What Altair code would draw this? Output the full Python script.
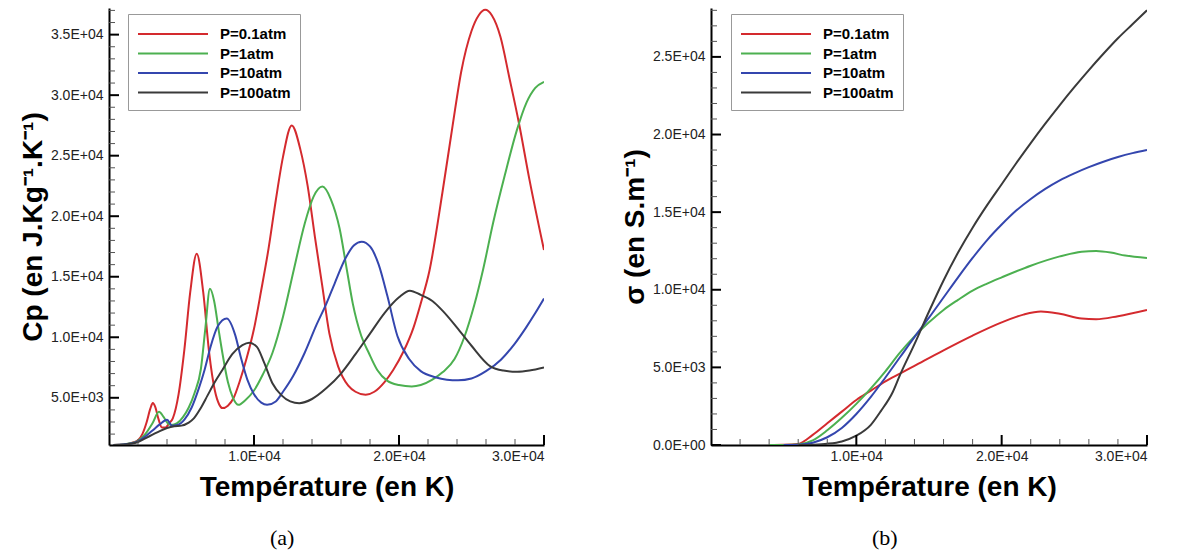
import altair as alt
import pandas as pd

# ---------------- data: Cp (left panel) ----------------
cp_T_01 = [300, 1000, 1500, 2000, 2300, 2600, 2850, 3020, 3200, 3400, 3650, 3900, 4150, 4400, 4800, 5200, 5600, 6050,
           6500, 6900, 7300, 7600, 7820, 8200, 8600, 9000, 9500, 10000, 10500, 11000, 11500, 12000, 12600, 13200,
           13700, 14200, 14700, 15200, 15800, 16500, 17000, 17700, 18300, 19000, 19600, 20300, 21000, 21500, 22100,
           23000, 23700, 24300, 25000, 25500, 25950, 26400, 27000, 27600, 28270, 29000, 30000]
cp_V_01 = [1110, 1150, 1250, 1500, 2000, 3000, 4100, 4560, 4200, 3300, 2550, 2550, 2900, 3300, 5300, 9000, 13700, 16900,
           13700, 8800, 5600, 4450, 4150, 4350, 5000, 6300, 8300, 10700, 13900, 17300, 21300, 24900, 27500, 25500,
           22500, 18300, 14300, 10300, 7600, 6000, 5500, 5250, 5500, 6300, 7300, 8800, 10800, 12800, 15500,
           22000, 27500, 32000, 35300, 36600, 37050, 36600, 34800, 31500, 27700, 23000, 17200]

cp_T_1 = [300, 1000, 1500, 2000, 2500, 3000, 3450, 3750, 4050, 4300, 4700, 5100, 5500, 5900, 6340, 6650, 6960, 7250,
          7550, 7820, 8200, 8550, 8930, 9400, 10000, 10600, 11270, 12000, 12750, 13500, 14100, 14720, 15300, 15900,
          16400, 16810, 17400, 17920, 18500, 19200, 20000, 20880, 21500, 22300, 23000, 23830, 24500, 25200, 25800,
          26500, 27300, 28140, 28800, 29400, 30000]
cp_V_1 = [1110, 1150, 1240, 1450, 2000, 2900, 3850, 3450, 2900, 2750, 2900, 3400, 4200, 5400, 7400, 10800, 14000, 13000,
          10700, 8700, 6300, 5000, 4420, 4800, 5600, 6900, 8700, 11700, 15600, 19400, 21600, 22450, 21400, 19000,
          15600, 12800, 10100, 8700, 7300, 6400, 6050, 5930, 6050, 6500, 7100, 8200, 10000, 12700, 15600,
          19500, 23400, 27150, 29400, 30600, 31100]

cp_T_10 = [300, 1000, 1500, 2000, 2500, 3000, 3500, 4000, 4350, 4700, 5200, 5700, 6200, 6590, 7000, 7500, 8120, 8700,
           9100, 9540, 10000, 10500, 10900, 11500, 12000, 12700, 13490, 14300, 15000, 15580, 16300, 16900, 17430,
           18000, 18600, 19200, 19890, 20700, 21500, 22500, 23300, 24070, 25000, 26000, 27030, 28000, 28760, 29400,
           30000]
cp_V_10 = [1110, 1140, 1220, 1400, 1800, 2300, 2800, 3180, 2700, 2750, 3200, 4200, 5800, 7300, 9200, 10900, 11550, 10200,
           8300, 6500, 5300, 4600, 4420, 4700, 5500, 6800, 8700, 11000, 12800, 14500, 16500, 17600, 17900,
           17500, 16000, 13400, 10100, 8200, 7200, 6700, 6500, 6450, 6600, 7200, 8150, 9500, 10800, 12000,
           13200]

cp_T_100 = [300, 1000, 1500, 2000, 2500, 3000, 3500, 4000, 4500, 5000, 5500, 5850, 6300, 6800, 7300, 7820, 8500, 9200,
            9670, 10200, 10700, 11270, 11900, 12500, 13120, 14000, 15000, 16000, 17000, 18000, 19000, 20000, 20750,
            21500, 22300, 23000, 24000, 25000, 26300, 27200, 28140, 29000, 30000]
cp_V_100 = [1110, 1130, 1200, 1350, 1650, 1950, 2250, 2500, 2650, 2700, 2950, 3300, 4100, 5200, 6300, 7300, 8600, 9350,
            9550, 9200, 7900, 6200, 5200, 4700, 4550, 4900, 5800, 7000, 8600, 10300, 12000, 13300, 13850,
            13500, 13000, 12200, 10800, 9300, 7600, 7250, 7150, 7250, 7500]

# ---------------- data: sigma (right panel) ----------------
sg_T_01 = [4000, 5000, 6000, 7000, 8000, 9000, 10000, 11000, 12000, 13000, 14000, 16000, 18000, 20000, 21500, 22700,
           24000, 25500, 26500, 28000, 30000]
sg_V_01 = [0, 10, 70, 650, 1400, 2150, 2900, 3500, 4100, 4600, 5100, 6100, 7050, 7900, 8400, 8600,
           8450, 8150, 8100, 8300, 8700]

sg_T_1 = [4000, 5000, 6000, 7000, 8000, 9000, 10000, 11000, 12000, 13000, 14000, 15000, 16000, 17000, 18000, 19000,
          20000, 22000, 24000, 25500, 26500, 27500, 28500, 30000]
sg_V_1 = [0, 5, 40, 300, 950, 1750, 2650, 3650, 4750, 5950, 7000, 7900, 8700, 9350, 9950, 10400,
          10800, 11550, 12150, 12450, 12500, 12400, 12200, 12050]

sg_T_10 = [5000, 6000, 7000, 8000, 9000, 10000, 11000, 12000, 13000, 14000, 15000, 16000, 17000, 18000, 19000, 20000,
           21000, 22000, 23000, 24000, 25000, 26000, 27000, 28000, 29000, 30000]
sg_V_10 = [0, 20, 150, 500, 1100, 2000, 3100, 4350, 5650, 6950, 8200, 9500, 10800, 12050, 13200, 14200,
           15100, 15850, 16500, 17050, 17500, 17900, 18250, 18550, 18800, 19000]

sg_T_100 = [6000, 7000, 8000, 9000, 10000, 11000, 11700, 12500, 13000, 14000, 15000, 16000, 17000, 18000, 19000, 20000,
            21000, 22000, 23000, 24000, 25000, 26000, 27000, 28000, 29000, 30000]
sg_V_100 = [0, 20, 80, 230, 600, 1300, 2200, 3400, 4500, 6500, 8600, 10600, 12400, 14000, 15450, 16800,
            18150, 19450, 20700, 21900, 23050, 24150, 25200, 26200, 27100, 28000]

series_names = ["P=0.1atm", "P=1atm", "P=10atm", "P=100atm"]
series_colors = ["#d42a2e", "#4cb050", "#3446ae", "#3a3a3a"]

# tick positions
x_major = [10000, 20000, 30000]
x_minor = [2000, 4000, 6000, 8000, 12000, 14000, 16000, 18000, 22000, 24000, 26000, 28000]
cp_y_major = [5000, 10000, 15000, 20000, 25000, 30000, 35000]
cp_y_minor = [2000, 3000, 4000, 6000, 7000, 8000, 9000, 11000, 12000, 13000, 14000, 16000, 17000, 18000, 19000,
              21000, 22000, 23000, 24000, 26000, 27000, 28000, 29000, 31000, 32000, 33000, 34000, 36000, 37000]
sg_y_major = [0, 5000, 10000, 15000, 20000, 25000]
sg_y_minor = [1000, 2000, 3000, 4000, 6000, 7000, 8000, 9000, 11000, 12000, 13000, 14000, 16000, 17000, 18000, 19000,
              21000, 22000, 23000, 24000, 26000, 27000, 28000]

LABEL_EXPR = ("datum.value == 0 ? '0.0E+00' : "
              "format(datum.value / pow(10, floor(log(datum.value)/LN10 + 1e-9)), '.1f') + 'E+' + "
              "(floor(log(datum.value)/LN10 + 1e-9) < 10 ? '0' : '') + floor(log(datum.value)/LN10 + 1e-9)")

FONT = "Liberation Sans"
XTITLE = "Température (en K)"


def long_df(pairs):
    rows = []
    for name, ts, vs in pairs:
        for t, v in zip(ts, vs):
            rows.append({"T": t, "V": v, "P": name})
    return pd.DataFrame(rows)


def panel(df, ydom, ymaj, ymin, ytitle, W, H, caption, legx):
    xs = alt.Scale(domain=[0, 30000], nice=False, zero=False)
    ys = alt.Scale(domain=ydom, nice=False, zero=False)
    xax = alt.Axis(values=x_major, labelExpr=LABEL_EXPR, ticks=False, grid=False,
                   labelPadding=4, titlePadding=10)
    yax = alt.Axis(values=ymaj, labelExpr=LABEL_EXPR, ticks=False, grid=False,
                   labelPadding=6, titlePadding=3)
    X = alt.X("T:Q", scale=xs, title=XTITLE, axis=xax)
    Y = alt.Y("V:Q", scale=ys, title=ytitle, axis=yax)

    lines = alt.Chart(df).mark_line(strokeWidth=2, interpolate="monotone", clip=True).encode(
        x=X, y=Y,
        color=alt.Color("P:N", scale=alt.Scale(domain=series_names, range=series_colors),
                        legend=alt.Legend(title=None, orient="none", legendX=legx, legendY=6,
                                          symbolType="M-3.5,0H3.5", symbolSize=400, symbolStrokeWidth=2,
                                          symbolOffset=25, symbolFillColor="transparent",
                                          labelFont=FONT, labelFontSize=15, labelFontWeight="bold",
                                          labelColor="black", labelOffset=36, padding=9, rowPadding=0.5,
                                          strokeColor="#999999", fillColor="white")),
        order=alt.Order("idx:Q"),
    ).transform_calculate(idx="indexof(['P=0.1atm','P=1atm','P=10atm','P=100atm'], datum.P)")

    xmaj = alt.Chart(pd.DataFrame({"T": x_major})).mark_rule(color="black", strokeWidth=2).encode(
        x=X, y=alt.value(H), y2=alt.value(H - 10))
    xmin = alt.Chart(pd.DataFrame({"T": x_minor})).mark_rule(color="#555555", strokeWidth=1).encode(
        x=X, y=alt.value(H), y2=alt.value(H - 6))
    ymj = alt.Chart(pd.DataFrame({"V": ymaj})).mark_rule(color="black", strokeWidth=2).encode(
        y=Y, x=alt.value(0), x2=alt.value(10))
    ymn = alt.Chart(pd.DataFrame({"V": ymin})).mark_rule(color="#555555", strokeWidth=1).encode(
        y=Y, x=alt.value(0), x2=alt.value(6))

    return alt.layer(lines, xmin, xmaj, ymn, ymj).properties(
        width=W, height=H,
        title=alt.TitleParams(caption, orient="bottom", font="Liberation Serif", fontSize=22,
                              fontWeight="normal", color="black", frame="bounds", anchor="middle",
                              offset=27, dx=0),
    )


cp_df = long_df([
    ("P=0.1atm", cp_T_01, cp_V_01),
    ("P=1atm", cp_T_1, cp_V_1),
    ("P=10atm", cp_T_10, cp_V_10),
    ("P=100atm", cp_T_100, cp_V_100),
])
sg_df = long_df([
    ("P=0.1atm", sg_T_01, sg_V_01),
    ("P=1atm", sg_T_1, sg_V_1),
    ("P=10atm", sg_T_10, sg_V_10),
    ("P=100atm", sg_T_100, sg_V_100),
])

left = panel(cp_df, [1100, 37200], cp_y_major, cp_y_minor, "Cp (en J.Kg⁻¹.K⁻¹)", 435, 437, "(a)", 19)
right = panel(sg_df, [0, 28150], sg_y_major, sg_y_minor, "σ (en S.m⁻¹)", 436, 437, "(b)", 20)

chart = alt.hconcat(left, right, spacing=167, bounds="flush").resolve_scale(
    color="independent").resolve_legend(color="independent").properties(
    padding={"left": 11, "top": 0, "right": 5, "bottom": 5},
    background="white",
).configure_view(stroke=None).configure_axis(
    labelFont=FONT, labelFontSize=14, labelColor="#222222",
    titleFont=FONT, titleFontSize=28, titleFontWeight="bold", titleColor="black",
    domainColor="black", domainWidth=2,
)

chart.save("out.html", embed_options={"renderer": "svg", "actions": False})
